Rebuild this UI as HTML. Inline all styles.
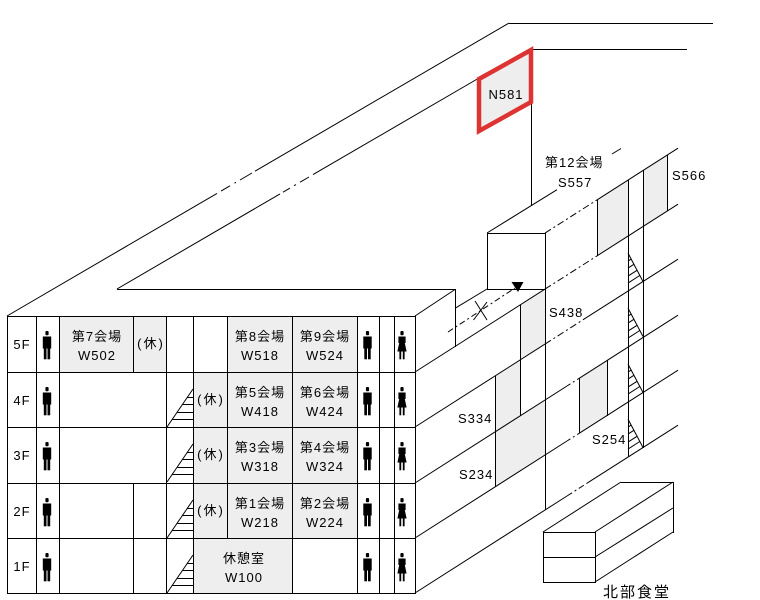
<!DOCTYPE html>
<html><head><meta charset="utf-8"><style>
html,body{margin:0;padding:0;background:#fff;}
svg{display:block;}
text{font-family:"Liberation Sans","Noto Sans CJK JP",sans-serif;font-size:13px;fill:#000;letter-spacing:1px;}
</style></head><body>
<svg width="760" height="600" viewBox="0 0 760 600" xmlns="http://www.w3.org/2000/svg">
<defs>
<g id="man"><rect x="-1.6" y="15" width="3.2" height="4.2" rx="1"/><rect x="-4.2" y="20.5" width="8.4" height="12"/><rect x="-3.2" y="32" width="2.7" height="11.3"/><rect x="0.5" y="32" width="2.7" height="11.3"/></g>
<g id="woman"><rect x="-1.6" y="15" width="3.2" height="4.2" rx="1"/><rect x="-3.6" y="20.5" width="7.2" height="6.5"/><polygon points="-2.8,27 2.8,27 4.6,35.5 -4.6,35.5"/><rect x="-2.6" y="35" width="1.8" height="8.3"/><rect x="0.8" y="35" width="1.8" height="8.3"/></g>
<g id="fstair" fill="none" stroke="#000" stroke-width="1"><line x1="167" y1="55" x2="193" y2="17"/><line x1="187.5" y1="25.5" x2="193" y2="25.5"/><line x1="182.7" y1="32.5" x2="193" y2="32.5"/><line x1="177.3" y1="40.5" x2="193" y2="40.5"/><line x1="172.5" y1="47.5" x2="193" y2="47.5"/></g>
<g id="rstair" fill="none" stroke="#000" stroke-width="1"><line x1="628" y1="253.1" x2="643" y2="281.5"/><line x1="628" y1="261.1" x2="631.2" y2="259.1"/><line x1="628" y1="268.1" x2="633.9" y2="264.3"/><line x1="628" y1="276.1" x2="637.1" y2="270.3"/><line x1="628" y1="283.1" x2="639.8" y2="275.5"/></g>
</defs>

<!-- shaded cells front -->
<g fill="#eeeeee">
<rect x="59" y="316" width="107" height="56"/>
<rect x="227" y="316" width="130" height="56"/>
<rect x="193" y="372" width="164" height="166"/>
<rect x="193" y="538" width="99" height="55"/>
</g>

<!-- shaded right face -->
<g fill="#eeeeee">
<polygon points="597,199.9 628,180.1 628,236.1 597,255.9"/>
<polygon points="643,170.5 667,155.2 667,211.2 643,226.5"/>
<polygon points="520,305 545,289.1 545,344.1 520,360"/>
<polygon points="495,376 520,360 520,416 495,432"/>
<polygon points="495,432 545,400.1 545,455.1 495,487"/>
<polygon points="579,378.4 607,360.5 607,415.5 579,433.4"/>
<polygon points="479,79 531,50 531,102 479,131"/>
</g>

<!-- front grid -->
<g stroke="#000" stroke-width="1" shape-rendering="crispEdges" fill="none">
<line x1="7" y1="316.5" x2="415" y2="316.5"/>
<line x1="7" y1="372.5" x2="415" y2="372.5"/>
<line x1="7" y1="427.5" x2="415" y2="427.5"/>
<line x1="7" y1="483.5" x2="415" y2="483.5"/>
<line x1="7" y1="538.5" x2="415" y2="538.5"/>
<line x1="7" y1="593.5" x2="416" y2="593.5"/>
<line x1="7.5" y1="316" x2="7.5" y2="594"/>
<line x1="36.5" y1="316" x2="36.5" y2="594"/>
<line x1="59.5" y1="316" x2="59.5" y2="594"/>
<line x1="133.5" y1="316" x2="133.5" y2="372"/>
<line x1="133.5" y1="483" x2="133.5" y2="594"/>
<line x1="166.5" y1="316" x2="166.5" y2="594"/>
<line x1="193.5" y1="316" x2="193.5" y2="594"/>
<line x1="227.5" y1="316" x2="227.5" y2="538"/>
<line x1="292.5" y1="316" x2="292.5" y2="594"/>
<line x1="357.5" y1="316" x2="357.5" y2="594"/>
<line x1="379.5" y1="316" x2="379.5" y2="594"/>
<line x1="394.5" y1="316" x2="394.5" y2="594"/>
<line x1="415.5" y1="316" x2="415.5" y2="594"/>
<line x1="117" y1="289.5" x2="455" y2="289.5"/>
<line x1="455.5" y1="289" x2="455.5" y2="347"/>
<line x1="487" y1="233.5" x2="545" y2="233.5"/>
<line x1="487" y1="289.5" x2="545" y2="289.5"/>
<line x1="487.5" y1="233" x2="487.5" y2="289"/>
<line x1="545.5" y1="233" x2="545.5" y2="510"/>
<line x1="531.5" y1="103" x2="531.5" y2="206"/>
<line x1="509" y1="23.5" x2="713" y2="23.5"/>
<line x1="532" y1="49.5" x2="687" y2="49.5"/>
<line x1="520.5" y1="305" x2="520.5" y2="416"/>
<line x1="495.5" y1="376" x2="495.5" y2="487"/>
<line x1="579.5" y1="378" x2="579.5" y2="433"/>
<line x1="607.5" y1="360" x2="607.5" y2="416"/>
<line x1="597.5" y1="200" x2="597.5" y2="256"/>
<line x1="628.5" y1="180" x2="628.5" y2="457"/>
<line x1="643.5" y1="170" x2="643.5" y2="448"/>
<line x1="667.5" y1="155" x2="667.5" y2="211"/>
<!-- canteen -->
<rect x="543.5" y="532.5" width="52" height="50"/>
<line x1="543" y1="557.5" x2="595" y2="557.5"/>
<line x1="621" y1="482.5" x2="673" y2="482.5"/>
<line x1="673.5" y1="482" x2="673.5" y2="533"/>
</g>

<!-- diagonal lines -->
<g stroke="#000" stroke-width="1" fill="none">
<!-- outer roof line -->
<line x1="7" y1="316" x2="217" y2="193.4"/>
<line x1="221" y1="191.1" x2="230" y2="185.8"/>
<line x1="234.5" y1="183.2" x2="236" y2="182.3"/>
<line x1="240" y1="180" x2="252" y2="173"/>
<line x1="255" y1="171.2" x2="509" y2="23"/>
<!-- inner roof line -->
<line x1="117" y1="289" x2="280" y2="193.9"/>
<line x1="283" y1="192.2" x2="290" y2="188.1"/>
<line x1="294" y1="185.7" x2="296" y2="184.6"/>
<line x1="300" y1="182.2" x2="309" y2="177"/>
<line x1="313" y1="174.6" x2="479" y2="78"/>
<!-- front block side -->
<line x1="415" y1="316" x2="455" y2="289.5"/>
<line x1="455" y1="308.3" x2="487" y2="289"/>
<!-- annex back edge -->
<line x1="487" y1="233" x2="557" y2="189.7"/>
<line x1="612" y1="154" x2="621" y2="148.5"/>
<!-- L5 -->
<line x1="545" y1="233.1" x2="597" y2="199.9" stroke-dasharray="7,3,2,3"/>
<line x1="597" y1="199.9" x2="678" y2="148.2"/>
<!-- L4 -->
<line x1="415" y1="372" x2="545" y2="289.1"/>
<line x1="545" y1="289.1" x2="597" y2="255.9" stroke-dasharray="7,3,2,3"/>
<line x1="597" y1="255.9" x2="678" y2="204.2"/>
<!-- L3 -->
<line x1="415" y1="427" x2="545" y2="344.1"/>
<line x1="545" y1="344.1" x2="588" y2="316.6" stroke-dasharray="7,3,2,3"/>
<line x1="588" y1="316.6" x2="678" y2="259.2"/>
<!-- L2 -->
<line x1="415" y1="483" x2="567" y2="386"/>
<line x1="567" y1="386" x2="579" y2="378.4" stroke-dasharray="4,3,2,3"/>
<line x1="579" y1="378.4" x2="678" y2="315.2"/>
<!-- L1 -->
<line x1="415" y1="538" x2="567" y2="441"/>
<line x1="567" y1="441" x2="579" y2="433.4" stroke-dasharray="4,3,2,3"/>
<line x1="579" y1="433.4" x2="678" y2="370.2"/>
<!-- L0 -->
<line x1="415" y1="593" x2="567" y2="496"/>
<line x1="567" y1="496" x2="588" y2="482.6" stroke-dasharray="6,3,2,3"/>
<line x1="588" y1="482.6" x2="678" y2="425.2"/>
<!-- canteen diagonals -->
<line x1="543" y1="532" x2="621" y2="482"/>
<line x1="595" y1="532" x2="673" y2="482"/>
<line x1="595" y1="557" x2="673" y2="508"/>
<line x1="595" y1="582" x2="673" y2="532"/>
<!-- arrow dash line -->
<line x1="448" y1="332" x2="515" y2="288" stroke-dasharray="6,3,2,3"/>
<!-- X -->
<line x1="475" y1="301" x2="487" y2="320"/>
<line x1="473.5" y1="320" x2="487" y2="302"/>
</g>
<polygon points="511.5,282 523.5,282 518,292" fill="#000"/>

<!-- N581 red box -->
<polygon points="479,79 531,50 531,102 479,131" fill="none" stroke="#dd3333" stroke-width="4.5" stroke-linejoin="miter"/>

<!-- front stairs -->
<use href="#fstair" transform="translate(0,372)"/>
<use href="#fstair" transform="translate(0,427)"/>
<use href="#fstair" transform="translate(0,483)"/>
<use href="#fstair" transform="translate(0,538)"/>

<!-- right stairs -->
<use href="#rstair"/>
<use href="#rstair" transform="translate(0,55)"/>
<use href="#rstair" transform="translate(0,111)"/>
<use href="#rstair" transform="translate(0,166)"/>

<!-- icons -->
<g fill="#000">
<use href="#man" transform="translate(47,316)"/>
<use href="#man" transform="translate(47,372)"/>
<use href="#man" transform="translate(47,427)"/>
<use href="#man" transform="translate(47,483)"/>
<use href="#man" transform="translate(47,538)"/>
<use href="#man" transform="translate(367.5,316)"/>
<use href="#man" transform="translate(367.5,372)"/>
<use href="#man" transform="translate(367.5,427)"/>
<use href="#man" transform="translate(367.5,483)"/>
<use href="#man" transform="translate(367.5,538)"/>
<use href="#woman" transform="translate(402,316)"/>
<use href="#woman" transform="translate(402,372)"/>
<use href="#woman" transform="translate(402,427)"/>
<use href="#woman" transform="translate(402,483)"/>
<use href="#woman" transform="translate(402,538)"/>
</g>

<!-- floor labels -->
<g text-anchor="middle">
<text x="22" y="349">5F</text>
<text x="22" y="405">4F</text>
<text x="22" y="460">3F</text>
<text x="22" y="516">2F</text>
<text x="22" y="571">1F</text>

<text x="97" y="341">第7会場</text>
<text x="97" y="360">W502</text>
<text x="151" y="348" style="letter-spacing:2px">(休)</text>

<text x="260" y="341">第8会場</text>
<text x="260" y="360">W518</text>
<text x="325" y="341">第9会場</text>
<text x="325" y="360">W524</text>

<text x="211" y="404" style="letter-spacing:2px">(休)</text>
<text x="260" y="397">第5会場</text>
<text x="260" y="416">W418</text>
<text x="325" y="397">第6会場</text>
<text x="325" y="416">W424</text>

<text x="211" y="459" style="letter-spacing:2px">(休)</text>
<text x="260" y="452">第3会場</text>
<text x="260" y="471">W318</text>
<text x="325" y="452">第4会場</text>
<text x="325" y="471">W324</text>

<text x="211" y="515" style="letter-spacing:2px">(休)</text>
<text x="260" y="508">第1会場</text>
<text x="260" y="527">W218</text>
<text x="325" y="508">第2会場</text>
<text x="325" y="527">W224</text>

<text x="244" y="563">休憩室</text>
<text x="244" y="582">W100</text>

<text x="506" y="99">N581</text>
</g>

<text x="545" y="167">第12会場</text>
<text x="558" y="187">S557</text>
<text x="672" y="180">S566</text>
<text x="549" y="317">S438</text>
<text x="458" y="423">S334</text>
<text x="459" y="479">S234</text>
<text x="592" y="444">S254</text>
<text x="603" y="597" style="font-size:15px;letter-spacing:2px">北部食堂</text>
</svg>
</body></html>
